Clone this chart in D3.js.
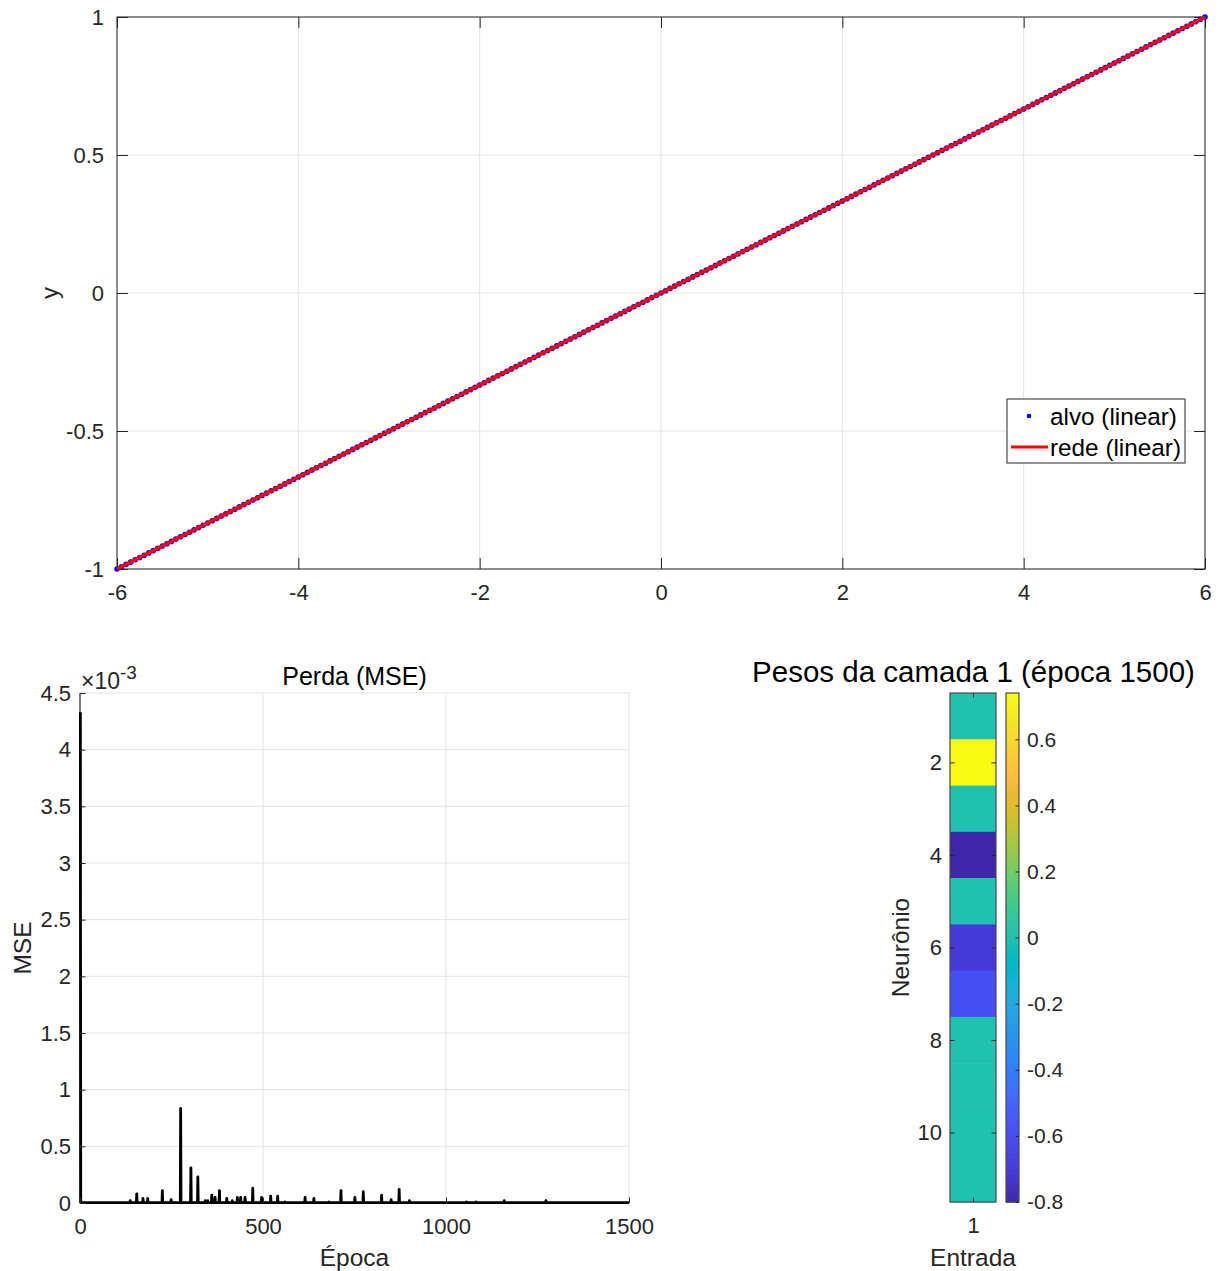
<!DOCTYPE html>
<html>
<head>
<meta charset="utf-8">
<script src="https://cdn.jsdelivr.net/npm/d3@7"></script>
<style>
  body { margin: 0; background: #fff; }
  svg text { font-family: "Liberation Sans", Arial, Helvetica, sans-serif; }
</style>
</head>
<body>
<svg id="fig" width="1222" height="1271"></svg>
<script>
// ---------- data: target samples and network output (linear fit) ----------
const alvoX = [
  -6,-5.95,-5.9,-5.85,-5.8,-5.75,-5.7,-5.65,-5.6,-5.55,-5.5,-5.45,-5.4,-5.35,-5.3,-5.25,-5.2,-5.15,-5.1,-5.05,
  -5,-4.95,-4.9,-4.85,-4.8,-4.75,-4.7,-4.65,-4.6,-4.55,-4.5,-4.45,-4.4,-4.35,-4.3,-4.25,-4.2,-4.15,-4.1,-4.05,
  -4,-3.95,-3.9,-3.85,-3.8,-3.75,-3.7,-3.65,-3.6,-3.55,-3.5,-3.45,-3.4,-3.35,-3.3,-3.25,-3.2,-3.15,-3.1,-3.05,
  -3,-2.95,-2.9,-2.85,-2.8,-2.75,-2.7,-2.65,-2.6,-2.55,-2.5,-2.45,-2.4,-2.35,-2.3,-2.25,-2.2,-2.15,-2.1,-2.05,
  -2,-1.95,-1.9,-1.85,-1.8,-1.75,-1.7,-1.65,-1.6,-1.55,-1.5,-1.45,-1.4,-1.35,-1.3,-1.25,-1.2,-1.15,-1.1,-1.05,
  -1,-0.95,-0.9,-0.85,-0.8,-0.75,-0.7,-0.65,-0.6,-0.55,-0.5,-0.45,-0.4,-0.35,-0.3,-0.25,-0.2,-0.15,-0.1,-0.05,
  0,0.05,0.1,0.15,0.2,0.25,0.3,0.35,0.4,0.45,0.5,0.55,0.6,0.65,0.7,0.75,0.8,0.85,0.9,0.95,
  1,1.05,1.1,1.15,1.2,1.25,1.3,1.35,1.4,1.45,1.5,1.55,1.6,1.65,1.7,1.75,1.8,1.85,1.9,1.95,
  2,2.05,2.1,2.15,2.2,2.25,2.3,2.35,2.4,2.45,2.5,2.55,2.6,2.65,2.7,2.75,2.8,2.85,2.9,2.95,
  3,3.05,3.1,3.15,3.2,3.25,3.3,3.35,3.4,3.45,3.5,3.55,3.6,3.65,3.7,3.75,3.8,3.85,3.9,3.95,
  4,4.05,4.1,4.15,4.2,4.25,4.3,4.35,4.4,4.45,4.5,4.55,4.6,4.65,4.7,4.75,4.8,4.85,4.9,4.95,
  5,5.05,5.1,5.15,5.2,5.25,5.3,5.35,5.4,5.45,5.5,5.55,5.6,5.65,5.7,5.75,5.8,5.85,5.9,5.95,
  6
];
const alvoY = [
  -1,-0.9917,-0.9833,-0.975,-0.9667,-0.9583,-0.95,-0.9417,-0.9333,-0.925,-0.9167,-0.9083,-0.9,-0.8917,-0.8833,-0.875,-0.8667,-0.8583,-0.85,-0.8417,
  -0.8333,-0.825,-0.8167,-0.8083,-0.8,-0.7917,-0.7833,-0.775,-0.7667,-0.7583,-0.75,-0.7417,-0.7333,-0.725,-0.7167,-0.7083,-0.7,-0.6917,-0.6833,-0.675,
  -0.6667,-0.6583,-0.65,-0.6417,-0.6333,-0.625,-0.6167,-0.6083,-0.6,-0.5917,-0.5833,-0.575,-0.5667,-0.5583,-0.55,-0.5417,-0.5333,-0.525,-0.5167,-0.5083,
  -0.5,-0.4917,-0.4833,-0.475,-0.4667,-0.4583,-0.45,-0.4417,-0.4333,-0.425,-0.4167,-0.4083,-0.4,-0.3917,-0.3833,-0.375,-0.3667,-0.3583,-0.35,-0.3417,
  -0.3333,-0.325,-0.3167,-0.3083,-0.3,-0.2917,-0.2833,-0.275,-0.2667,-0.2583,-0.25,-0.2417,-0.2333,-0.225,-0.2167,-0.2083,-0.2,-0.1917,-0.1833,-0.175,
  -0.1667,-0.1583,-0.15,-0.1417,-0.1333,-0.125,-0.1167,-0.1083,-0.1,-0.0917,-0.0833,-0.075,-0.0667,-0.0583,-0.05,-0.0417,-0.0333,-0.025,-0.0167,-0.0083,
  0,0.0083,0.0167,0.025,0.0333,0.0417,0.05,0.0583,0.0667,0.075,0.0833,0.0917,0.1,0.1083,0.1167,0.125,0.1333,0.1417,0.15,0.1583,
  0.1667,0.175,0.1833,0.1917,0.2,0.2083,0.2167,0.225,0.2333,0.2417,0.25,0.2583,0.2667,0.275,0.2833,0.2917,0.3,0.3083,0.3167,0.325,
  0.3333,0.3417,0.35,0.3583,0.3667,0.375,0.3833,0.3917,0.4,0.4083,0.4167,0.425,0.4333,0.4417,0.45,0.4583,0.4667,0.475,0.4833,0.4917,
  0.5,0.5083,0.5167,0.525,0.5333,0.5417,0.55,0.5583,0.5667,0.575,0.5833,0.5917,0.6,0.6083,0.6167,0.625,0.6333,0.6417,0.65,0.6583,
  0.6667,0.675,0.6833,0.6917,0.7,0.7083,0.7167,0.725,0.7333,0.7417,0.75,0.7583,0.7667,0.775,0.7833,0.7917,0.8,0.8083,0.8167,0.825,
  0.8333,0.8417,0.85,0.8583,0.8667,0.875,0.8833,0.8917,0.9,0.9083,0.9167,0.925,0.9333,0.9417,0.95,0.9583,0.9667,0.975,0.9833,0.9917,
  1
];
const redeX = [-6,-5.5,-5,-4.5,-4,-3.5,-3,-2.5,-2,-1.5,-1,-0.5,0,0.5,1,1.5,2,2.5,3,3.5,4,4.5,5,5.5,6];
const redeY = [-1,-0.9167,-0.8333,-0.75,-0.6667,-0.5833,-0.5,-0.4167,-0.3333,-0.25,-0.1667,-0.0833,0,
               0.0833,0.1667,0.25,0.3333,0.4167,0.5,0.5833,0.6667,0.75,0.8333,0.9167,1];
const topXTicks = [-6,-4,-2,0,2,4,6];
const topYTicks = [-1,-0.5,0,0.5,1];

// ---------- data: training loss (MSE per epoch; epochs not listed sit at lossFloor) ----------
const lossEpochs = [1,137,155,172,185,225,249,275,303,322,342,349,360,369,381,401,416,430,439,451,
                    472,496,521,540,560,615,639,680,713,751,774,824,850,872,900,1056,1082,1159,1273];
const lossValues = [4.33e-3,0.02e-3,0.08e-3,0.04e-3,0.04e-3,0.11e-3,0.03e-3,0.835e-3,0.31e-3,0.23e-3,
                    0.02e-3,0.02e-3,0.07e-3,0.05e-3,0.11e-3,0.04e-3,0.02e-3,0.05e-3,0.05e-3,0.05e-3,
                    0.13e-3,0.05e-3,0.06e-3,0.06e-3,0.01e-3,0.05e-3,0.04e-3,0.01e-3,0.11e-3,0.05e-3,
                    0.10e-3,0.07e-3,0.03e-3,0.12e-3,0.02e-3,0.01e-3,0.01e-3,0.02e-3,0.02e-3];
const lossFloor = 4e-6;
const lossLastEpoch = 1500;
const lossXTicks = [0,500,1000,1500];
const lossYTicks = [0,0.5e-3,1e-3,1.5e-3,2e-3,2.5e-3,3e-3,3.5e-3,4e-3,4.5e-3];

// ---------- data: layer-1 weights (11 neurons x 1 input) ----------
const neurons = [1,2,3,4,5,6,7,8,9,10,11];
const weights = [0, 0.74, 0, -0.80, 0, -0.69, -0.595, 0, 0, 0, 0];
const neuronTicks = [2,4,6,8,10];
const cbarTicks = [-0.8,-0.6,-0.4,-0.2,0,0.2,0.4,0.6];

// parula colormap (64 entries)
const PARULA = [[0.2422,0.1504,0.6603],[0.2504,0.1650,0.7076],[0.2578,0.1818,0.7511],[0.2647,0.1978,0.7952],
[0.2706,0.2147,0.8364],[0.2751,0.2342,0.8710],[0.2783,0.2559,0.8991],[0.2803,0.2782,0.9221],[0.2813,0.3006,0.9414],
[0.2810,0.3228,0.9579],[0.2795,0.3447,0.9717],[0.2760,0.3667,0.9829],[0.2699,0.3892,0.9906],[0.2602,0.4123,0.9952],
[0.2440,0.4358,0.9988],[0.2206,0.4603,0.9973],[0.1963,0.4847,0.9892],[0.1834,0.5074,0.9798],[0.1786,0.5289,0.9682],
[0.1764,0.5499,0.9520],[0.1687,0.5703,0.9359],[0.1540,0.5902,0.9218],[0.1460,0.6091,0.9079],[0.1380,0.6276,0.8973],
[0.1248,0.6459,0.8883],[0.1113,0.6635,0.8763],[0.0952,0.6798,0.8598],[0.0689,0.6948,0.8394],[0.0297,0.7082,0.8163],
[0.0036,0.7203,0.7917],[0.0067,0.7312,0.7660],[0.0433,0.7411,0.7394],[0.0964,0.7500,0.7120],[0.1408,0.7584,0.6842],
[0.1717,0.7670,0.6554],[0.1938,0.7758,0.6251],[0.2161,0.7843,0.5923],[0.2470,0.7918,0.5567],[0.2906,0.7973,0.5188],
[0.3406,0.8008,0.4789],[0.3909,0.8029,0.4354],[0.4456,0.8024,0.3909],[0.5044,0.7993,0.3480],[0.5616,0.7942,0.3045],
[0.6174,0.7876,0.2612],[0.6720,0.7793,0.2227],[0.7242,0.7698,0.1910],[0.7738,0.7598,0.1646],[0.8203,0.7498,0.1535],
[0.8634,0.7406,0.1596],[0.9035,0.7330,0.1774],[0.9393,0.7288,0.2100],[0.9728,0.7298,0.2394],[0.9956,0.7434,0.2371],
[0.9970,0.7659,0.2199],[0.9952,0.7893,0.2028],[0.9892,0.8136,0.1885],[0.9786,0.8386,0.1766],[0.9676,0.8639,0.1643],
[0.9610,0.8890,0.1537],[0.9597,0.9135,0.1423],[0.9628,0.9373,0.1265],[0.9691,0.9606,0.1064],[0.9769,0.9839,0.0805]];

// ---------- shared styling ----------
const INK = '#262626';
const GRID = '#e2e2e2';
const TICK_FONT = 22;
const fmt = d => String(+d.toFixed(4));

const svg = d3.select('#fig');

function styleAxis(sel, fontSize) {
  sel.attr('color', INK).attr('font-size', fontSize)
     .attr('font-family', '"Liberation Sans", Arial, Helvetica, sans-serif');
  sel.select('.domain').remove();
  sel.selectAll('.tick line').attr('stroke-width', 1);
}

// =====================================================================
// Panel 1: target vs network output
// =====================================================================
const xTop = d3.scaleLinear().domain([-6, 6]).range([117, 1205]);
const yTop = d3.scaleLinear().domain([-1, 1]).range([569, 17]);
const gTop = svg.append('g');

gTop.append('g').selectAll('line').data(topXTicks).join('line')
  .attr('x1', d => xTop(d)).attr('x2', d => xTop(d))
  .attr('y1', yTop(-1)).attr('y2', yTop(1)).attr('stroke', GRID);
gTop.append('g').selectAll('line').data(topYTicks).join('line')
  .attr('x1', xTop(-6)).attr('x2', xTop(6))
  .attr('y1', d => yTop(d)).attr('y2', d => yTop(d)).attr('stroke', GRID);

gTop.append('rect')
  .attr('x', xTop(-6)).attr('y', yTop(1))
  .attr('width', xTop(6) - xTop(-6)).attr('height', yTop(-1) - yTop(1))
  .attr('fill', 'none').attr('stroke', '#4a4a4a').attr('stroke-width', 1.2);

const tlTop = 11;
gTop.append('g').attr('transform', `translate(0,${yTop(-1)})`)
  .call(d3.axisBottom(xTop).tickValues(topXTicks).tickFormat(fmt).tickSizeInner(-tlTop).tickSizeOuter(0).tickPadding(15))
  .call(s => styleAxis(s, TICK_FONT));
gTop.append('g').attr('transform', `translate(0,${yTop(1)})`)
  .call(d3.axisTop(xTop).tickValues(topXTicks).tickFormat('').tickSizeInner(-tlTop).tickSizeOuter(0))
  .call(s => styleAxis(s, TICK_FONT));
gTop.append('g').attr('transform', `translate(${xTop(-6)},0)`)
  .call(d3.axisLeft(yTop).tickValues(topYTicks).tickFormat(fmt).tickSizeInner(-tlTop).tickSizeOuter(0).tickPadding(13))
  .call(s => styleAxis(s, TICK_FONT));
gTop.append('g').attr('transform', `translate(${xTop(6)},0)`)
  .call(d3.axisRight(yTop).tickValues(topYTicks).tickFormat('').tickSizeInner(-tlTop).tickSizeOuter(0))
  .call(s => styleAxis(s, TICK_FONT));

// target samples
gTop.append('g').selectAll('circle').data(alvoX.map((x, i) => [x, alvoY[i]])).join('circle')
  .attr('cx', d => xTop(d[0])).attr('cy', d => yTop(d[1])).attr('r', 2.8).attr('fill', '#0000ff');
// network output
gTop.append('path').datum(redeX.map((x, i) => [x, redeY[i]]))
  .attr('d', d3.line().x(d => xTop(d[0])).y(d => yTop(d[1])))
  .attr('fill', 'none').attr('stroke', '#ff0000').attr('stroke-width', 3.6);

gTop.append('text').attr('transform', `translate(50,${yTop(0)}) rotate(-90)`)
  .attr('dy', '0.35em').attr('text-anchor', 'middle').attr('font-size', 24).attr('fill', INK).text('y');

// legend
const leg = gTop.append('g').attr('transform', 'translate(1007,399)');
leg.append('rect').attr('width', 178).attr('height', 64).attr('fill', '#fff')
  .attr('stroke', '#4a4a4a').attr('stroke-width', 1.2);
leg.append('circle').attr('cx', 22).attr('cy', 17).attr('r', 2.3).attr('fill', '#0000ff');
leg.append('text').attr('x', 43).attr('y', 17).attr('dy', '0.35em').attr('font-size', 24.3).attr('fill', '#000').text('alvo (linear)');
leg.append('line').attr('x1', 4).attr('x2', 41).attr('y1', 48).attr('y2', 48).attr('stroke', '#ff0000').attr('stroke-width', 3.2);
leg.append('text').attr('x', 43).attr('y', 48).attr('dy', '0.35em').attr('font-size', 24.3).attr('fill', '#000').text('rede (linear)');

// =====================================================================
// Panel 2: training loss
// =====================================================================
const xLoss = d3.scaleLinear().domain([0, 1500]).range([80, 629]);
const yLoss = d3.scaleLinear().domain([0, 4.5e-3]).range([1203, 693]);
const gLoss = svg.append('g');

gLoss.append('g').selectAll('line').data(lossXTicks.slice(1)).join('line')
  .attr('x1', d => xLoss(d)).attr('x2', d => xLoss(d))
  .attr('y1', yLoss(0)).attr('y2', yLoss(4.5e-3)).attr('stroke', GRID);
gLoss.append('g').selectAll('line').data(lossYTicks.slice(1)).join('line')
  .attr('x1', xLoss(0)).attr('x2', xLoss(1500))
  .attr('y1', d => yLoss(d)).attr('y2', d => yLoss(d)).attr('stroke', GRID);

gLoss.append('line').attr('x1', xLoss(0)).attr('x2', xLoss(1500)).attr('y1', yLoss(0)).attr('y2', yLoss(0))
  .attr('stroke', INK).attr('stroke-width', 1.2);
gLoss.append('line').attr('x1', xLoss(0)).attr('x2', xLoss(0)).attr('y1', yLoss(0)).attr('y2', yLoss(4.5e-3))
  .attr('stroke', INK).attr('stroke-width', 1.2);

// loss curve: floor between the listed epochs
const lossPts = [[lossEpochs[0], lossValues[0]], [lossEpochs[0] + 1, lossFloor]];
for (let i = 1; i < lossEpochs.length; i++) {
  const e = lossEpochs[i];
  lossPts.push([e - 1, lossFloor], [e, lossValues[i]], [e + 1, lossFloor]);
}
lossPts.push([lossLastEpoch, lossFloor]);
gLoss.append('path').datum(lossPts)
  .attr('d', d3.line().x(d => xLoss(d[0])).y(d => yLoss(d[1])))
  .attr('fill', 'none').attr('stroke', '#000').attr('stroke-width', 2.8).attr('stroke-linejoin', 'round');

gLoss.append('g').attr('transform', `translate(0,${yLoss(0)})`)
  .call(d3.axisBottom(xLoss).tickValues(lossXTicks).tickFormat(fmt).tickSizeInner(-5.5).tickSizeOuter(0).tickPadding(15))
  .call(s => styleAxis(s, TICK_FONT));
gLoss.append('g').attr('transform', `translate(${xLoss(0)},0)`)
  .call(d3.axisLeft(yLoss).tickValues(lossYTicks).tickFormat(d => fmt(d * 1000)).tickSizeInner(-5.5).tickSizeOuter(0).tickPadding(9))
  .call(s => styleAxis(s, TICK_FONT));

const expo = gLoss.append('text').attr('x', 81).attr('y', 689).attr('font-size', 23).attr('fill', INK);
expo.append('tspan').text('\u00d710');
expo.append('tspan').attr('dy', -10).attr('font-size', 19).text('-3');

gLoss.append('text').attr('x', (xLoss(0) + xLoss(1500)) / 2).attr('y', 676).attr('dy', '0.35em')
  .attr('text-anchor', 'middle').attr('font-size', 25).attr('fill', '#000').text('Perda (MSE)');
gLoss.append('text').attr('x', (xLoss(0) + xLoss(1500)) / 2).attr('y', 1257).attr('dy', '0.35em')
  .attr('text-anchor', 'middle').attr('font-size', 24.5).attr('fill', INK).text('Época');
gLoss.append('text').attr('transform', `translate(22,${(yLoss(0) + yLoss(4.5e-3)) / 2}) rotate(-90)`)
  .attr('dy', '0.35em').attr('text-anchor', 'middle').attr('font-size', 24.5).attr('fill', INK).text('MSE');

// =====================================================================
// Panel 3: layer-1 weights heat map with colour bar
// =====================================================================
const wMin = d3.min(weights), wMax = d3.max(weights);
const parula = d3.piecewise(d3.interpolateRgb, PARULA.map(c => d3.rgb(c[0] * 255, c[1] * 255, c[2] * 255)));
const colorW = d3.scaleSequential(parula).domain([wMin, wMax]);

const hx0 = 950, hx1 = 996;
const yHeat = d3.scaleLinear().domain([0.5, 11.5]).range([693, 1202]);
const xHeat = d3.scaleLinear().domain([0.5, 1.5]).range([hx0, hx1]);
const gHeat = svg.append('g');

gHeat.append('g').selectAll('rect').data(neurons).join('rect')
  .attr('x', xHeat(0.5)).attr('width', xHeat(1.5) - xHeat(0.5))
  .attr('y', d => yHeat(d - 0.5)).attr('height', d => yHeat(d + 0.5) - yHeat(d - 0.5) + 0.5)
  .attr('fill', (d, i) => colorW(weights[i]));

gHeat.append('rect').attr('x', xHeat(0.5)).attr('y', yHeat(0.5))
  .attr('width', xHeat(1.5) - xHeat(0.5)).attr('height', yHeat(11.5) - yHeat(0.5))
  .attr('fill', 'none').attr('stroke', '#4a4a4a').attr('stroke-width', 1.2);

gHeat.append('g').attr('transform', `translate(${hx0},0)`)
  .call(d3.axisLeft(yHeat).tickValues(neuronTicks).tickFormat(fmt).tickSizeInner(-4.5).tickSizeOuter(0).tickPadding(8))
  .call(s => styleAxis(s, TICK_FONT));
gHeat.append('g').attr('transform', `translate(${hx1},0)`)
  .call(d3.axisRight(yHeat).tickValues(neuronTicks).tickFormat('').tickSizeInner(-4.5).tickSizeOuter(0))
  .call(s => styleAxis(s, TICK_FONT));
gHeat.append('g').attr('transform', `translate(0,${yHeat(11.5)})`)
  .call(d3.axisBottom(xHeat).tickValues([1]).tickFormat(fmt).tickSizeInner(-4.5).tickSizeOuter(0).tickPadding(15))
  .call(s => styleAxis(s, TICK_FONT));
gHeat.append('g').attr('transform', `translate(0,${yHeat(0.5)})`)
  .call(d3.axisTop(xHeat).tickValues([1]).tickFormat('').tickSizeInner(-4.5).tickSizeOuter(0))
  .call(s => styleAxis(s, TICK_FONT));

gHeat.append('text').attr('x', 973.5).attr('y', 672).attr('dy', '0.35em')
  .attr('text-anchor', 'middle').attr('font-size', 29.5).attr('fill', '#000').text('Pesos da camada 1 (época 1500)');
gHeat.append('text').attr('x', xHeat(1)).attr('y', 1257).attr('dy', '0.35em')
  .attr('text-anchor', 'middle').attr('font-size', 24.5).attr('fill', INK).text('Entrada');
gHeat.append('text').attr('transform', `translate(900,${(yHeat(0.5) + yHeat(11.5)) / 2}) rotate(-90)`)
  .attr('dy', '0.35em').attr('text-anchor', 'middle').attr('font-size', 24.5).attr('fill', INK).text('Neurônio');

// colour bar
const cbX0 = 1006, cbX1 = 1019;
const yCbar = d3.scaleLinear().domain([wMin, wMax]).range([1202, 693]);
const nSlices = 256;
const slices = d3.range(nSlices).map(i => wMin + (wMax - wMin) * (i + 0.5) / nSlices);
const sliceH = (yCbar(wMin) - yCbar(wMax)) / nSlices;
gHeat.append('g').selectAll('rect').data(slices).join('rect')
  .attr('x', cbX0).attr('width', cbX1 - cbX0)
  .attr('y', d => yCbar(d) - sliceH / 2).attr('height', sliceH + 0.6)
  .attr('fill', d => colorW(d));
gHeat.append('rect').attr('x', cbX0).attr('y', yCbar(wMax)).attr('width', cbX1 - cbX0)
  .attr('height', yCbar(wMin) - yCbar(wMax)).attr('fill', 'none').attr('stroke', '#4a4a4a').attr('stroke-width', 1.2);
gHeat.append('g').attr('transform', `translate(${cbX1},0)`)
  .call(d3.axisRight(yCbar).tickValues(cbarTicks).tickFormat(fmt).tickSizeInner(-3.5).tickSizeOuter(0).tickPadding(8))
  .call(s => styleAxis(s, 21));
</script>
</body>
</html>
